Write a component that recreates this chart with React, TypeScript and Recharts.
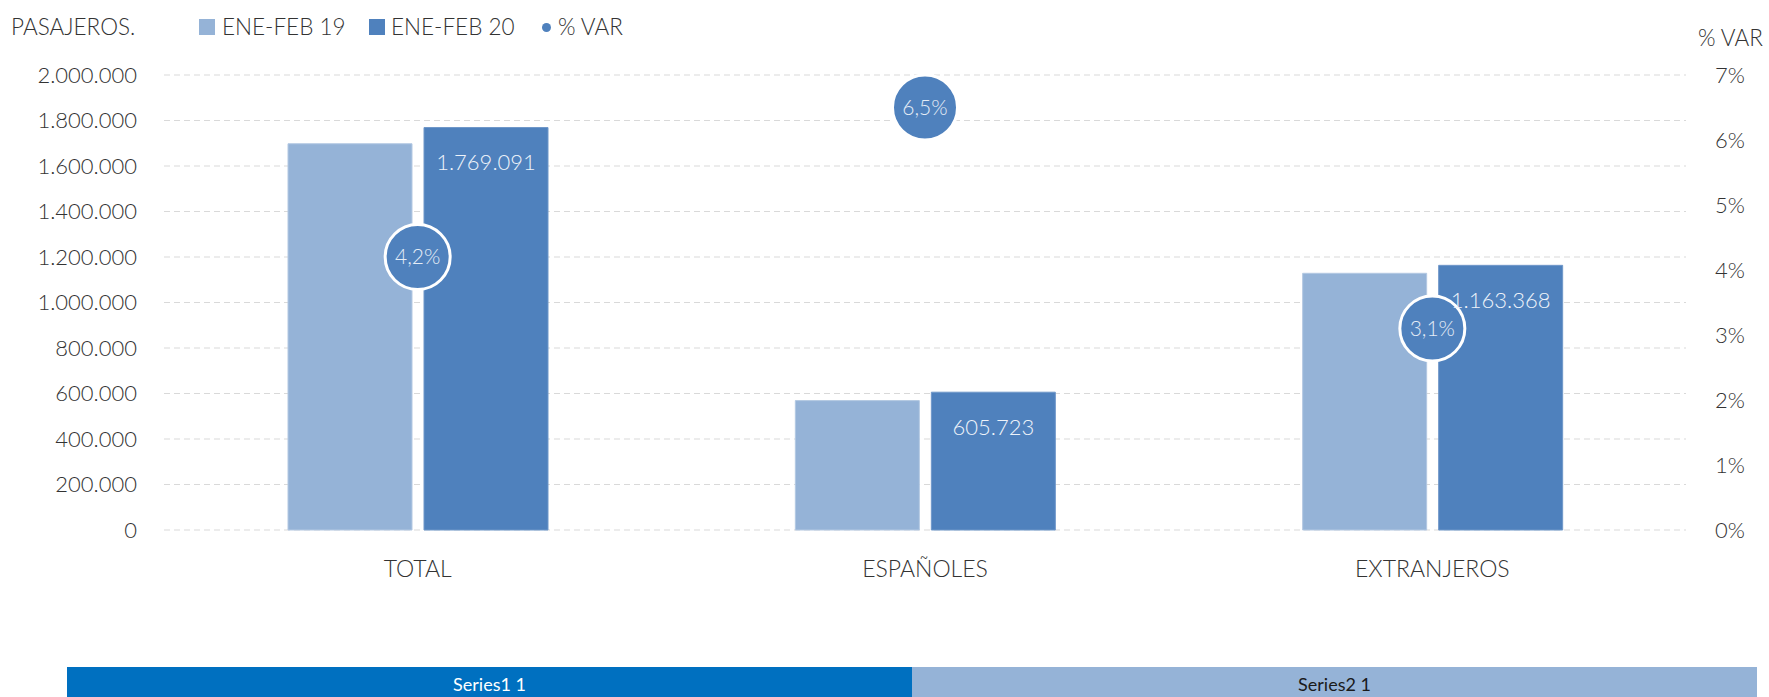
import {
  Bar,
  BarChart,
  CartesianGrid,
  ComposedChart,
  LabelList,
  Line,
  XAxis,
  YAxis,
} from "recharts";

document.body.style.margin = "0";

const categories = ["TOTAL", "ESPAÑOLES", "EXTRANJEROS"];
const pasajeros19 = [1697800, 568800, 1128400];
const pasajeros20 = [1769091, 605723, 1163368];
const varPct = [4.2, 6.5, 3.1];
const leftTicks = [0, 200000, 400000, 600000, 800000, 1000000, 1200000, 1400000, 1600000, 1800000, 2000000];
const rightTicks = [0, 1, 2, 3, 4, 5, 6, 7];
const seriesNames = ["ENE-FEB 19", "ENE-FEB 20", "% VAR"];
const bandNames = ["Series1", "Series2"];
const bandValues = [1, 1];

const LIGHT = "#95B3D7";
const DARK = "#4F81BD";
const BAND_BLUE = "#0070C0";
const TEXT = "#333333";
const FONT = "Lato, 'Open Sans', sans-serif";

const fmtThousands = (v: number) =>
  String(Math.round(v)).replace(/\B(?=(\d{3})+(?!\d))/g, ".");
const fmtPct = (v: number) => v.toFixed(1).replace(".", ",") + "%";

const data = categories.map((name, i) => ({
  name,
  y19: pasajeros19[i],
  y20: pasajeros20[i],
  pct: varPct[i],
}));

const bandRow = [{ name: "band", s1: bandValues[0], s2: bandValues[1] }];

function VarBubble(props: any) {
  const { cx, cy, value, index } = props;
  if (cx == null || cy == null) return null;
  return (
    <g key={`var-${index}`}>
      <circle cx={cx} cy={cy} r={32.5} fill={DARK} stroke="#ffffff" strokeWidth={3} />
      <text
        x={cx}
        y={cy}
        dy="0.35em"
        textAnchor="middle"
        fill="#e4ecf6"
        fontSize={21}
        fontFamily={FONT}
        fontWeight={300}
      >
        {fmtPct(value)}
      </text>
    </g>
  );
}

function TopLegend() {
  const txt = {
    position: "absolute" as const,
    fontFamily: FONT,
    fontWeight: 300,
    fontSize: 22.5,
    lineHeight: "26px",
    color: TEXT,
    whiteSpace: "nowrap" as const,
  };
  return (
    <>
      <div style={{ ...txt, left: 11, top: 14 }}>PASAJEROS.</div>
      <div style={{ position: "absolute", left: 199, top: 19, width: 16, height: 16, background: LIGHT }} />
      <div style={{ ...txt, left: 222, top: 14 }}>{seriesNames[0]}</div>
      <div style={{ position: "absolute", left: 369, top: 19, width: 16, height: 16, background: DARK }} />
      <div style={{ ...txt, left: 391, top: 14 }}>{seriesNames[1]}</div>
      <div
        style={{
          position: "absolute",
          left: 541.5,
          top: 22.5,
          width: 9,
          height: 9,
          borderRadius: "50%",
          background: DARK,
        }}
      />
      <div style={{ ...txt, left: 558, top: 14 }}>{seriesNames[2]}</div>
      <div style={{ ...txt, left: 1698, top: 25 }}>{seriesNames[2]}</div>
    </>
  );
}

export default function App() {
  const tick = { fill: TEXT, fontSize: 22, fontFamily: FONT, fontWeight: 300 };
  return (
    <div style={{ position: "relative", width: 1769, height: 697, overflow: "hidden", background: "#fff" }}>
      <TopLegend />
      <div style={{ position: "absolute", left: 0, top: 0 }}>
        <ComposedChart
          width={1769}
          height={610}
          data={data}
          barGap={12}
          margin={{ top: 75, right: 0, bottom: 0, left: 0 }}
        >
          <CartesianGrid
            yAxisId="left"
            vertical={false}
            stroke="#d9d9d9"
            strokeDasharray="6 4"
          />
          <XAxis
            dataKey="name"
            axisLine={false}
            tickLine={false}
            tickSize={0}
            tickMargin={31}
            height={80}
            tick={{ ...tick, fontSize: 23 }}
          />
          <YAxis
            yAxisId="left"
            domain={[0, 2000000]}
            ticks={leftTicks}
            tickFormatter={fmtThousands}
            axisLine={false}
            tickLine={false}
            tickSize={0}
            tickMargin={27}
            width={164}
            tick={tick}
            interval={0}
          />
          <YAxis
            yAxisId="right"
            orientation="right"
            domain={[0, 7]}
            ticks={rightTicks}
            tickFormatter={(v: number) => `${v}%`}
            axisLine={false}
            tickLine={false}
            tickSize={0}
            tickMargin={29}
            width={83}
            tick={{ ...tick, textAnchor: "start" }}
            interval={0}
          />
          <Bar
            yAxisId="left"
            dataKey="y19"
            name={seriesNames[0]}
            fill={LIGHT}
            stroke="#b3c8e2"
            strokeWidth={1}
            barSize={124}
            isAnimationActive={false}
          />
          <Bar
            yAxisId="left"
            dataKey="y20"
            name={seriesNames[1]}
            fill={DARK}
            stroke="#6f97c9"
            strokeWidth={1}
            barSize={124}
            isAnimationActive={false}
          >
            <LabelList
              dataKey="y20"
              position="insideTop"
              offset={27}
              fill="#eef3fa"
              fontSize={22}
              fontFamily={FONT}
              fontWeight={300}
              formatter={(v: unknown) => (typeof v === "number" ? fmtThousands(v) : String(v ?? ""))}
            />
          </Bar>
          <Line
            yAxisId="right"
            dataKey="pct"
            name={seriesNames[2]}
            stroke="none"
            dot={VarBubble}
            activeDot={false}
            isAnimationActive={false}
          />
        </ComposedChart>
      </div>
      <div style={{ position: "absolute", left: 67, top: 667 }}>
        <BarChart
          width={1690}
          height={36}
          data={bandRow}
          layout="vertical"
          margin={{ top: 0, right: 0, bottom: 0, left: 0 }}
          barCategoryGap={0}
        >
          <XAxis type="number" domain={[0, 2]} hide />
          <YAxis type="category" dataKey="name" hide />
          <Bar dataKey="s1" stackId="band" fill={BAND_BLUE} isAnimationActive={false}>
            <LabelList
              dataKey="s1"
              position="center"
              fill="#ffffff"
              fontSize={18}
              fontFamily={FONT}
              formatter={(v: unknown) => `${bandNames[0]} ${v}`}
            />
          </Bar>
          <Bar dataKey="s2" stackId="band" fill={LIGHT} isAnimationActive={false}>
            <LabelList
              dataKey="s2"
              position="center"
              fill="#1a1a1a"
              fontSize={18}
              fontFamily={FONT}
              formatter={(v: unknown) => `${bandNames[1]} ${v}`}
            />
          </Bar>
        </BarChart>
      </div>
    </div>
  );
}
